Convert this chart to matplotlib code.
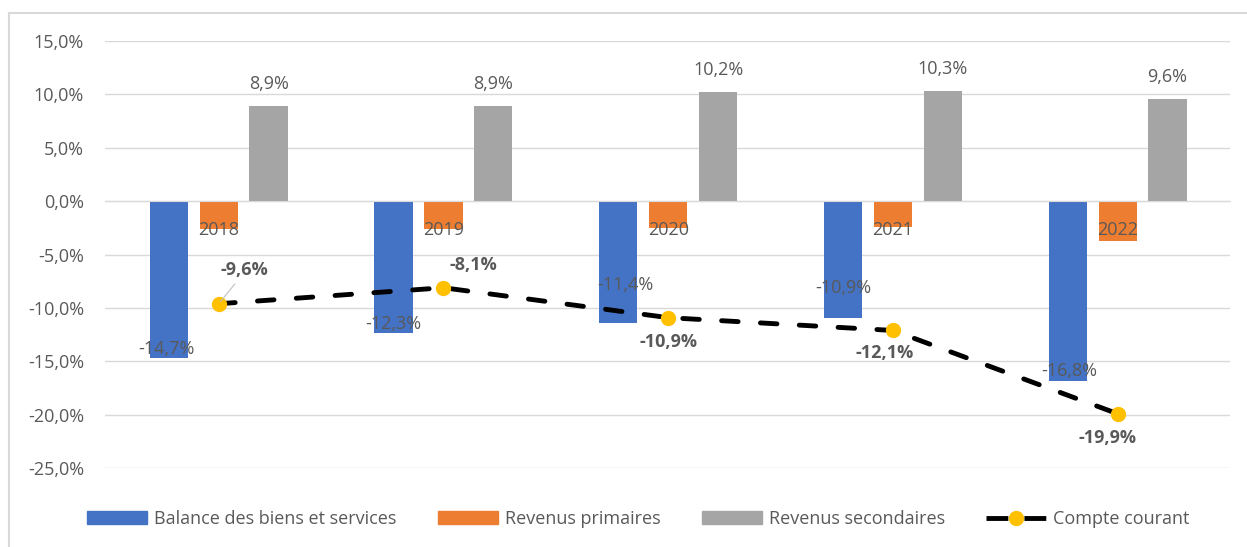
import matplotlib.pyplot as plt
from matplotlib.lines import Line2D
from matplotlib.patches import Patch
import numpy as np

years = ['2018', '2019', '2020', '2021', '2022']
balance = [-14.7, -12.3, -11.4, -10.9, -16.8]
primaires = [-2.6, -2.6, -2.5, -2.4, -3.7]
secondaires = [8.9, 8.9, 10.2, 10.3, 9.6]
courant = [-9.6, -8.1, -10.9, -12.1, -19.9]

blue = '#4472C4'
orange = '#ED7D31'
grey = '#A5A5A5'
yellow = '#FFC000'
txt = '#595959'
fs = 13

plt.rcParams['font.family'] = ['Open Sans', 'DejaVu Sans']

fig = plt.figure(figsize=(12.47, 5.47), dpi=100)
ax = fig.add_axes([0.084, 0.144, 0.902, 0.781])

x = np.arange(len(years))
w = 0.17
off = 0.222
ax.bar(x - off, balance, w, color=blue, zorder=2)
ax.bar(x, primaires, w, color=orange, zorder=2)
ax.bar(x + off, secondaires, w, color=grey, zorder=2)
ax.plot(x, courant, color='black', lw=3.5, ls=(0, (3.4, 4.6)), dash_capstyle='round',
        marker='o', ms=10, mfc=yellow, mec=yellow, zorder=3)

def pct(v):
    return f'{v:.1f}%'.replace('.', ',')

# year labels sit just under the zero line, over the orange bars
for i, y in enumerate(years):
    ax.annotate(y, (x[i], 0), xytext=(0, -29), textcoords='offset pixels',
                ha='center', va='center', fontsize=fs, color=txt, zorder=5)

# labels of blue bars (some pushed up to clear the line)
blue_dy = [9, 9, 38, 30, 10]
blue_dx = [-2, 0, 7, 0, 2]
for i, v in enumerate(balance):
    ax.annotate(pct(v), (x[i] - off, v), xytext=(blue_dx[i], blue_dy[i]),
                textcoords='offset pixels', ha='center', va='center',
                fontsize=fs, color=txt, zorder=4)

for i, v in enumerate(secondaires):
    ax.annotate(pct(v), (x[i] + off, v), xytext=(0, 22), textcoords='offset pixels',
                ha='center', va='center', fontsize=fs, color=txt)

line_dx = [26, 30, 0, -8, -10]
line_dy = [34, 23, -24, -23, -24]
for i, v in enumerate(courant):
    ax.annotate(pct(v), (x[i], v), xytext=(line_dx[i], line_dy[i]),
                textcoords='offset pixels', ha='center', va='center',
                fontsize=fs, color=txt, fontweight='bold', zorder=4)
# leader line for the first one
ax.annotate('', (x[0], courant[0]), xytext=(18, 22), textcoords='offset pixels',
            arrowprops=dict(arrowstyle='-', color='#BFBFBF', lw=0.8))

ax.set_xlim(-0.507, 4.498)
ax.set_ylim(-25, 15)
ax.set_yticks(np.arange(-25, 16, 5))
ax.set_yticklabels([pct(t) for t in np.arange(-25, 16, 5)])
ax.yaxis.grid(True, color='#D9D9D9', lw=1)
ax.set_axisbelow(True)
for s in ['top', 'right', 'left']:
    ax.spines[s].set_visible(False)
ax.spines['bottom'].set_position(('data', 0))
ax.spines['bottom'].set_color('#D9D9D9')
ax.set_xticks([])
ax.tick_params(axis='y', length=0, pad=15, labelsize=fs, labelcolor=txt)

handles = [Patch(color=blue), Patch(color=orange), Patch(color=grey),
           Line2D([], [], color='black', lw=3.5, ls=(0, (4.5, 3.3)), marker='o', ms=10,
                  mfc=yellow, mec=yellow)]
labels = ['Balance des biens et services', 'Revenus primaires', 'Revenus secondaires',
          'Compte courant']
fig.legend(handles, labels, loc='center', bbox_to_anchor=(0.512, 0.051), ncol=4,
           frameon=False, fontsize=fs, labelcolor=txt, handlelength=3.3,
           handleheight=0.7, columnspacing=2.3, handletextpad=0.4)

# chart border
fig.add_artist(Line2D([9 / 1247, 1], [1 - 13 / 547] * 2, color='#D9D9D9', lw=1.5))
fig.add_artist(Line2D([9 / 1247] * 2, [0, 1 - 13 / 547], color='#D9D9D9', lw=1.5))

fig.savefig('out.png', dpi=100)
